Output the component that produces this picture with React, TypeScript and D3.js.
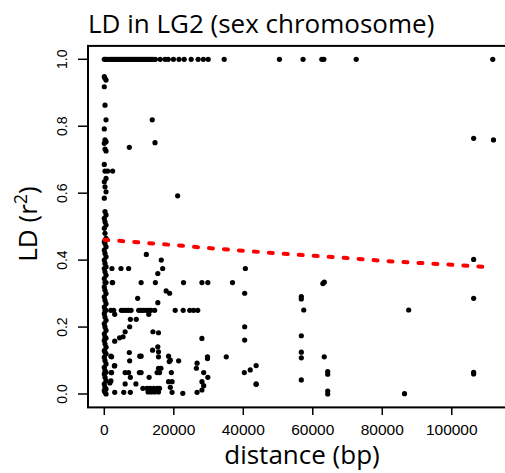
import React from 'react';
import * as d3 from 'd3';

// points at r2 = 1 (distance only)
const topRowDistance = [
  0, 300, 800, 1500, 2000, 2500, 3000, 3500, 4000, 4500, 5000, 5500, 6000, 6500, 7000,
  7500, 8000, 8500, 9000, 9500, 10000, 10500, 11000, 11500, 12000, 12500, 13000, 13500,
  14000, 14700, 16100, 17500, 18400, 19900, 21500, 23000, 25000, 27000, 28500, 29900,
  34500, 50400, 57200, 62600, 63200, 72500, 111800,
];

// the column of pairs at (almost) zero distance
const zeroColumnLD = [
  0.948, 0.943, 0.938, 0.918, 0.863, 0.819, 0.792, 0.759, 0.754, 0.749, 0.732, 0.726,
  0.686, 0.666, 0.644, 0.634, 0.619, 0.604, 0.585, 0.545, 0.535, 0.525, 0.515, 0.505,
  0.495, 0.48, 0.465, 0.455, 0.45, 0.44, 0.43, 0.42, 0.41, 0.4, 0.39, 0.38, 0.375, 0.365,
  0.355, 0.345, 0.333, 0.333, 0.32, 0.31, 0.3, 0.29, 0.28, 0.27, 0.26, 0.25, 0.25, 0.24,
  0.23, 0.22, 0.21, 0.2, 0.19, 0.18, 0.17, 0.167, 0.16, 0.15, 0.14, 0.13, 0.125, 0.12,
  0.11, 0.1, 0.09, 0.08, 0.07, 0.065, 0.06, 0.05, 0.04, 0.03, 0.02, 0.015, 0.01, 0.005, 0.0,
];
const zeroColumnJitter = [0, 200, 500];

// remaining pairs: [distance (bp), r2]
const otherPairs: [number, number][] = [
  [13800, 0.819], [14600, 0.751], [7200, 0.737], [1000, 0.666], [2400, 0.666], [21100, 0.592],
  [12100, 0.417], [16400, 0.4], [16800, 0.375], [15400, 0.36], [2200, 0.375], [4800, 0.375],
  [7000, 0.375], [40600, 0.375],
  [2400, 0.333], [10600, 0.333], [14700, 0.333], [22800, 0.333], [28100, 0.333], [29800, 0.333],
  [36900, 0.333], [17800, 0.308], [18800, 0.301], [9600, 0.286], [15400, 0.273], [40400, 0.301],
  [1900, 0.25], [2700, 0.25], [4900, 0.25], [5600, 0.25], [6300, 0.25], [7000, 0.25], [7700, 0.25],
  [9900, 0.25], [10600, 0.25], [11300, 0.25], [12100, 0.25], [12800, 0.25], [13400, 0.25],
  [14500, 0.25], [20400, 0.25], [22700, 0.25], [24600, 0.25], [25700, 0.25], [26900, 0.25],
  [3000, 0.238], [12800, 0.238], [7500, 0.223], [9200, 0.223], [7300, 0.201], [40400, 0.201],
  [6000, 0.186], [4400, 0.168], [5400, 0.171], [14000, 0.186], [15600, 0.183], [15400, 0.141],
  [13900, 0.131], [15600, 0.126], [28100, 0.166], [40400, 0.161], [3000, 0.158], [7200, 0.124],
  [1900, 0.113], [10600, 0.113], [10200, 0.113], [15600, 0.111], [18500, 0.113], [19000, 0.101],
  [21400, 0.099], [29700, 0.111], [29700, 0.106], [35100, 0.111], [7300, 0.099], [3000, 0.085],
  [26700, 0.092], [26500, 0.077], [15600, 0.077], [16300, 0.077], [18700, 0.097],
  [2000, 0.064], [6000, 0.064], [7000, 0.064], [10100, 0.064], [10600, 0.064], [15200, 0.064],
  [15900, 0.064], [19300, 0.064], [28600, 0.064], [40300, 0.064], [42000, 0.072], [43700, 0.085],
  [12900, 0.05], [7500, 0.05], [29800, 0.05], [18500, 0.037], [19500, 0.037], [1900, 0.039],
  [28100, 0.037], [43700, 0.03], [6000, 0.03], [9100, 0.03],
  [11100, 0.017], [12300, 0.017], [13200, 0.017], [14200, 0.017], [15200, 0.017], [15900, 0.017],
  [12600, 0.006], [13500, 0.006], [14500, 0.006], [15600, 0.006], [3000, 0.005], [5600, 0.005],
  [7500, 0.005], [19000, 0.02], [19500, 0.005], [22600, 0.002], [26700, 0.005], [28100, 0.012],
  [28600, 0.025],
  [2100, 0.111], [2900, 0.084], [2100, 0.064], [1600, 0.033], [2300, 0.333],
  [63300, 0.334], [62900, 0.33], [56700, 0.291], [56700, 0.284], [57400, 0.251], [56700, 0.174],
  [56700, 0.125], [56700, 0.108], [63300, 0.111], [43700, 0.029], [56700, 0.042], [64300, 0.067],
  [64300, 0.059], [64300, 0.009], [64300, 0.0],
  [106300, 0.402], [106300, 0.286], [87600, 0.251], [106300, 0.065], [106300, 0.06],
  [86400, 0.001], [106300, 0.764], [112000, 0.759],
];

// fitted decay curve (red dashed)
const fitDistance = [0, 10000, 20000, 30000, 40000, 50000, 60000, 70000, 80000, 90000, 100000, 111000];
const fitLD = [0.461, 0.453, 0.445, 0.436, 0.428, 0.42, 0.413, 0.406, 0.398, 0.392, 0.386, 0.379];

const xTicks = [0, 20000, 40000, 60000, 80000, 100000];
const yTicks = [0, 0.2, 0.4, 0.6, 0.8, 1.0];

const W = 505;
const H = 473;

export default function App() {
  const x = d3.scaleLinear().domain([-4690, 121940]).range([88, 528]);
  const y = d3.scaleLinear().domain([-0.04, 1.04]).range([407.4, 45.9]);

  const points: [number, number][] = [
    ...topRowDistance.map((d): [number, number] => [d, 1]),
    ...zeroColumnLD.map((v, i): [number, number] => [zeroColumnJitter[i % 3], v]),
    ...otherPairs,
  ];

  const fitLine = d3
    .line<number>()
    .x((d) => x(d))
    .y((_, i) => y(fitLD[i]))(fitDistance);

  const sans = 'Liberation Sans, Arial, sans-serif';
  const label = '"Open Sans", sans-serif';

  return (
    <svg
      width={W}
      height={H}
      style={{ position: 'absolute', left: 0, top: 0, background: '#fff' }}
    >
      <text x={88} y={33} fontFamily={label} fontSize={26} fill="#000">
        LD in LG2 (sex chromosome)
      </text>

      <rect
        x={x.range()[0]}
        y={y.range()[1]}
        width={x.range()[1] - x.range()[0]}
        height={y.range()[0] - y.range()[1]}
        fill="none"
        stroke="#000"
        strokeWidth={2}
      />

      {yTicks.map((t) => (
        <g key={t}>
          <line x1={78} x2={88} y1={y(t)} y2={y(t)} stroke="#000" strokeWidth={1.5} />
          <text
            transform={`translate(66.5,${y(t)}) rotate(-90)`}
            textAnchor="middle"
            fontFamily={sans}
            fontSize={14}
          >
            {t.toFixed(1)}
          </text>
        </g>
      ))}

      {xTicks.map((t) => (
        <g key={t}>
          <line x1={x(t)} x2={x(t)} y1={407.4} y2={415} stroke="#000" strokeWidth={1.5} />
          <text x={x(t)} y={434.7} textAnchor="middle" fontFamily={sans} fontSize={15.5}>
            {t}
          </text>
        </g>
      ))}

      <g fill="#000">
        {points.map(([d, v], i) => (
          <circle key={i} cx={x(d)} cy={y(v)} r={2.6} />
        ))}
      </g>

      <path
        d={fitLine ?? ''}
        fill="none"
        stroke="#ff0000"
        strokeWidth={4}
        strokeDasharray="4 11"
        strokeLinecap="round"
      />

      <text x={302} y={464} textAnchor="middle" fontFamily={label} fontSize={26}>
        distance (bp)
      </text>
      <text
        transform="translate(37,224) rotate(-90)"
        textAnchor="middle"
        fontFamily={label}
        fontSize={26}
      >
        LD (r
        <tspan fontSize={18} dy={-10}>2</tspan>
        <tspan dy={10}>)</tspan>
      </text>
    </svg>
  );
}
